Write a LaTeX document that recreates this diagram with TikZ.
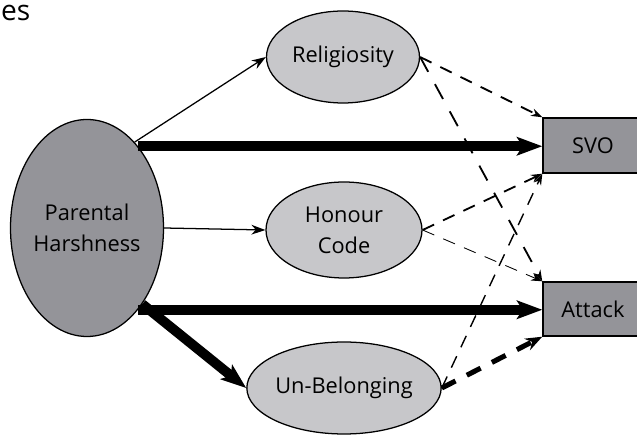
\documentclass[tikz,border=0pt]{standalone}
\usepackage{fontspec}
\setmainfont{Open Sans}
\usepackage{tikz}
\usetikzlibrary{arrows.meta,shapes.geometric}
\definecolor{darkfill}{HTML}{949499}
\definecolor{lightfill}{HTML}{C7C7CA}

\begin{document}
\begin{tikzpicture}[
  font=\fontsize{15.5}{22}\selectfont,
  blob/.style={ellipse, draw=black, line width=0.9pt, inner sep=0pt, align=center},
  pred/.style={blob, fill=darkfill},
  medi/.style={blob, fill=lightfill},
  outc/.style={rectangle, draw=black, line width=1pt, fill=darkfill,
               minimum width=2.5cm, inner sep=0pt},
  arr/.style={-{Stealth[length=10pt, width=7pt]}, line width=0.9pt},
  fat/.style={-{Stealth[length=18pt, width=13pt, inset=4pt]}, line width=7pt},
  dsh/.style={-{Stealth[length=8pt, width=5.5pt]}, line width=1.3pt,
              dash pattern=on 9pt off 7pt},
]
\useasboundingbox (0,0) rectangle (15.925,-10.925);
\clip (0,0) rectangle (15.925,-10.925);
\node[font=\fontsize{20}{24}\selectfont, anchor=base west, inner sep=0pt] (es) at (0.02,-0.52) {es};
\node[pred, minimum width=3.825cm, minimum height=5.425cm] (ph) at (2.175,-5.7) {Parental\\Harshness};
\node[medi, minimum width=3.825cm, minimum height=2.3cm] (rel) at (8.575,-1.425) {Religiosity};
\node[medi, minimum width=3.9cm, minimum height=2.4cm] (hon) at (8.6,-5.75) {Honour\\Code};
\node[medi, minimum width=3.9cm, minimum height=2.3cm] (unb) at (8.6,-9.7) {Un-Belonging};
\node[outc, minimum height=1.375cm] (svo) at (14.825,-3.6375) {SVO};
\node[outc, minimum height=1.35cm] (att) at (14.825,-7.725) {Attack};
% paths out of parental harshness
\draw[arr] (ph.61) -- (rel.west);
\draw[fat] (ph.58) -- (ph.58 -| svo.west);
\draw[arr] (ph.east) -- (hon.west);
\draw[fat] (ph.-58) -- (ph.-58 -| att.west);
\draw[fat] (ph.-54) -- (unb.west);
% mediators to outcomes
\draw[dsh] (rel.east) -- (svo.north west);
\draw[dsh, dash pattern=on 12pt off 10pt] (rel.east) -- (att.north west);
\draw[dsh] (hon.east) -- (svo.south west);
\draw[dsh, line width=0.6pt] (hon.east) -- (att.north west);
\draw[dsh, line width=1pt] (unb.east) -- (svo.south west);
\draw[dsh, line width=3.6pt, dash pattern=on 11pt off 9pt,
  -{Stealth[length=12pt, width=9pt]}] (unb.east) -- (att.south west);
\end{tikzpicture}
\end{document}
